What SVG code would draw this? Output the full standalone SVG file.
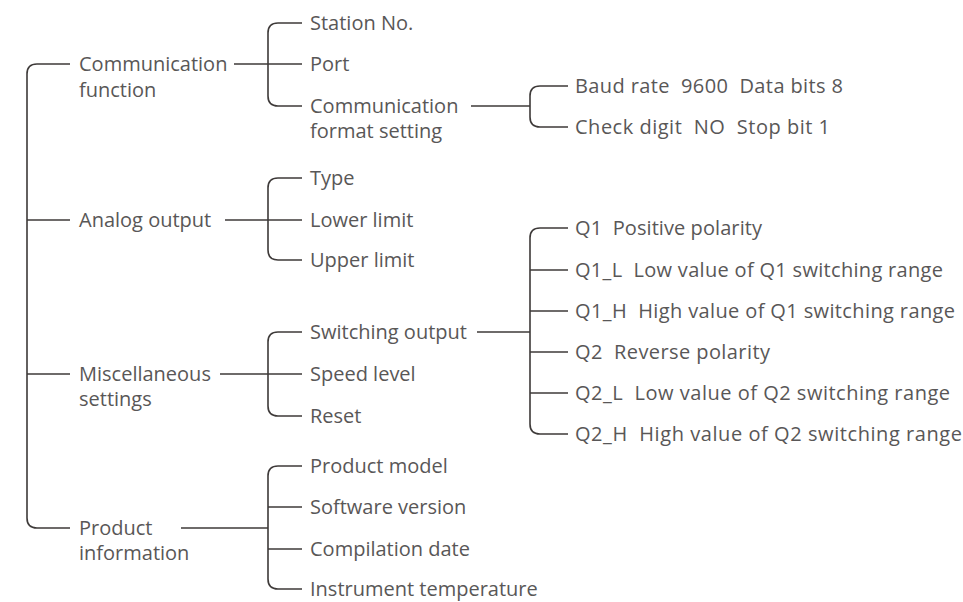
<svg xmlns="http://www.w3.org/2000/svg" width="963" height="602" viewBox="0 0 963 602">
<style>
text{font-family:"Open Sans","Noto Sans","Liberation Sans",sans-serif;font-size:20px;fill:#595757;white-space:pre}
.c path,.c line{stroke:#3e3a39;stroke-width:1.6;fill:none}
</style>
<rect width="963" height="602" fill="#fff"/>
<g class="c" id="connectors">
<path d="M70 64 H37 Q27 64 27 74 V518 Q27 528 37 528 H70"/>
<line x1="27" y1="220" x2="70" y2="220"/>
<line x1="27" y1="374" x2="70" y2="374"/>
<line x1="234" y1="64" x2="302" y2="64"/>
<path d="M302 23 H278 Q268 23 268 33 V96 Q268 106 278 106 H302"/>
<line x1="225" y1="220" x2="302" y2="220"/>
<path d="M302 178 H278 Q268 178 268 188 V250 Q268 260 278 260 H302"/>
<line x1="220" y1="374" x2="302" y2="374"/>
<path d="M302 332 H278 Q268 332 268 342 V406 Q268 416 278 416 H302"/>
<line x1="181" y1="528" x2="268" y2="528"/>
<path d="M302 466 H278 Q268 466 268 476 V579 Q268 589 278 589 H302"/>
<line x1="268" y1="507" x2="302" y2="507"/>
<line x1="268" y1="549" x2="302" y2="549"/>
<line x1="471" y1="106" x2="530" y2="106"/>
<path d="M568 86 H540 Q530 86 530 96 V117 Q530 127 540 127 H568"/>
<line x1="477" y1="332" x2="530" y2="332"/>
<path d="M568 228 H540 Q530 228 530 238 V424 Q530 434 540 434 H568"/>
<line x1="530" y1="270" x2="568" y2="270"/>
<line x1="530" y1="311" x2="568" y2="311"/>
<line x1="530" y1="352" x2="568" y2="352"/>
<line x1="530" y1="393" x2="568" y2="393"/>
</g>
<g id="n-comm"><text x="79" y="71">Communication</text><text x="79" y="97">function</text></g>
<g id="n-analog"><text x="79" y="227">Analog output</text></g>
<g id="n-misc"><text x="79" y="381">Miscellaneous</text><text x="79" y="406">settings</text></g>
<g id="n-prod"><text x="79" y="535">Product</text><text x="79" y="560">information</text></g>
<g id="n-station"><text x="310" y="30">Station No.</text></g>
<g id="n-port"><text x="310" y="71">Port</text></g>
<g id="n-cfs"><text x="310" y="113">Communication</text><text x="310" y="138">format setting</text></g>
<g id="n-type"><text x="310" y="185">Type</text></g>
<g id="n-lower"><text x="310" y="227">Lower limit</text></g>
<g id="n-upper"><text x="310" y="267">Upper limit</text></g>
<g id="n-sw"><text x="310" y="339">Switching output</text></g>
<g id="n-speed"><text x="310" y="381">Speed level</text></g>
<g id="n-reset"><text x="310" y="423">Reset</text></g>
<g id="n-model"><text x="310" y="473">Product model</text></g>
<g id="n-soft"><text x="310" y="514">Software version</text></g>
<g id="n-comp"><text x="310" y="556">Compilation date</text></g>
<g id="n-temp"><text x="310" y="596">Instrument temperature</text></g>
<g id="n-baud"><text x="575" y="93" textLength="268">Baud rate  9600  Data bits 8</text></g>
<g id="n-check"><text x="575" y="134" textLength="255">Check digit  NO  Stop bit 1</text></g>
<g id="n-q1"><text x="575" y="235" textLength="187">Q1  Positive polarity</text></g>
<g id="n-q1l"><text x="575" y="277" textLength="368">Q1_L  Low value of Q1 switching range</text></g>
<g id="n-q1h"><text x="575" y="318" textLength="380">Q1_H  High value of Q1 switching range</text></g>
<g id="n-q2"><text x="575" y="359" textLength="195">Q2  Reverse polarity</text></g>
<g id="n-q2l"><text x="575" y="400" textLength="375">Q2_L  Low value of Q2 switching range</text></g>
<g id="n-q2h"><text x="575" y="441" textLength="387">Q2_H  High value of Q2 switching range</text></g>
</svg>
